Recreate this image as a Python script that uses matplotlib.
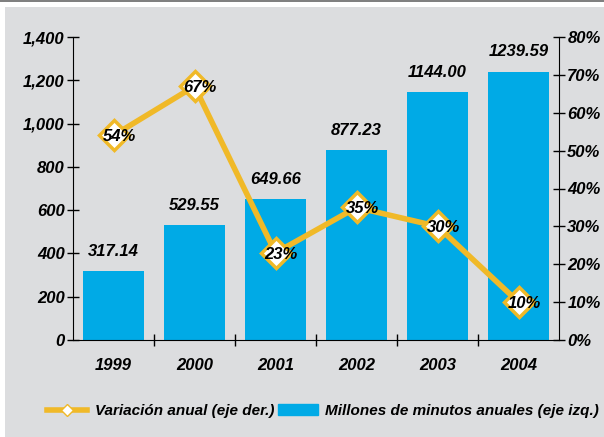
import matplotlib.pyplot as plt
from matplotlib.patches import Rectangle
from matplotlib.lines import Line2D

years = ["1999", "2000", "2001", "2002", "2003", "2004"]
minutos = [317.14, 529.55, 649.66, 877.23, 1144.00, 1239.59]
minutos_lbl = ["317.14", "529.55", "649.66", "877.23", "1144.00", "1239.59"]
variacion = [54, 67, 23, 35, 30, 10]

bar_c = "#00aae6"
line_c = "#f0b928"
bg = "#dcdddf"

plt.rcParams['font.family'] = ['Liberation Sans', 'DejaVu Sans']
font = dict(fontweight="bold", fontstyle="italic")
fs = 12

fig = plt.figure(figsize=(6.04, 4.37), dpi=100)
fig.patch.set_facecolor("white")
fig.patches.append(Rectangle((5/604, 0), 1, 430/437, transform=fig.transFigure,
                             facecolor=bg, edgecolor="none", zorder=-2))
fig.patches.append(Rectangle((0, 435/437), 1, 2/437, transform=fig.transFigure,
                             facecolor="#808080", edgecolor="none", zorder=-2))

ax = fig.add_axes([73/604, 1 - 340/437, (559-73)/604, (340-37)/437])
ax.set_facecolor("none")
x = list(range(len(years)))
ax.bar(x, minutos, width=0.745, color=bar_c, zorder=1)
ax.set_xlim(-0.5, 5.5)
ax.set_ylim(0, 1400)
ax.set_yticks(range(0, 1401, 200))
ax.set_yticklabels([f"{v:,}" for v in range(0, 1401, 200)], fontsize=fs, **font)
ax.set_xticks(x)
ax.set_xticklabels(years, fontsize=fs, **font)
ax.set_xticks([i + 0.5 for i in x[:-1]], minor=True)
ax.tick_params(axis="x", which="major", length=0, pad=13)
ax.tick_params(axis="x", which="minor", direction="inout", length=8, width=1)
ax.tick_params(axis="y", direction="inout", length=8, width=1, pad=2)
for s in ["top", "right"]:
    ax.spines[s].set_visible(False)
for xi, v, t in zip(x, minutos, minutos_lbl):
    ax.annotate(t, (xi, v), xytext=(0, 9), textcoords="offset points",
                ha="center", va="bottom", fontsize=fs, **font)

ax2 = ax.twinx()
ax2.set_ylim(0, 80)
ax2.set_yticks(range(0, 81, 10))
ax2.set_yticklabels([f"{v}%" for v in range(0, 81, 10)], fontsize=fs, **font)
ax2.tick_params(axis="y", direction="inout", length=8, width=1, pad=2)
for s in ["top", "left", "bottom"]:
    ax2.spines[s].set_visible(False)
ax2.plot(x, variacion, color=line_c, lw=4, marker="D", markersize=15,
         markerfacecolor="white", markeredgecolor=line_c, markeredgewidth=2.5, zorder=3)
for xi, v in zip(x, variacion):
    ax2.annotate(f"{v}%", (xi, v), xytext=(4, -1), textcoords="offset points",
                 ha="center", va="center", fontsize=fs, zorder=4, **font)

handles = [Line2D([], [], color=line_c, lw=4, marker="D", markersize=6,
                  markerfacecolor="white", markeredgecolor=line_c),
           Rectangle((0, 0), 1, 1, color=bar_c)]
fig.legend(handles, ["Variación anual (eje der.)", "Millones de minutos anuales (eje izq.)"],
           loc="center", bbox_to_anchor=(0.535, 1 - 411/437), ncol=2, frameon=False,
           prop=dict(size=11, weight="bold", style="italic"),
           handlelength=2.6, handletextpad=0.5, columnspacing=0.25)

fig.savefig("out.png", dpi=100, facecolor=fig.get_facecolor())
